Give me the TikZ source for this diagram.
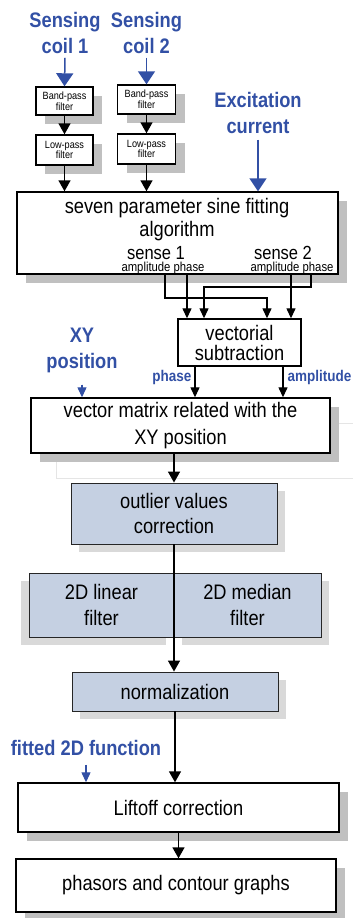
\documentclass[tikz,border=0pt]{standalone}
\usepackage{fontspec}
\setmainfont{Liberation Sans}[FakeStretch=0.87]
\usetikzlibrary{arrows.meta,shadows}
\definecolor{tagblue}{RGB}{50,80,165}
\definecolor{boxblue}{RGB}{197,208,226}
\definecolor{shadegray}{RGB}{192,192,192}
\definecolor{lightshade}{RGB}{217,217,217}
\newcommand{\fsz}[2]{\fontsize{#1}{#2}\selectfont}

\begin{document}
\begin{tikzpicture}[x=1pt, y=-1pt,
    plainbox/.style={draw=black, line width=1.4pt, fill=white, inner sep=0pt, align=center, font=\fsz{21}{26}},
    box/.style={plainbox, drop shadow={shadow xshift=9pt, shadow yshift=-9pt, fill=shadegray, opacity=1}},
    bluebox/.style={draw=black!85, line width=0.9pt, fill=boxblue, inner sep=0pt, align=center, font=\fsz{21}{25},
        drop shadow={shadow xshift=#1, shadow yshift=-8pt, fill=lightshade, opacity=1}},
    bluebox/.default=8pt,
    tag/.style={text=tagblue, font=\bfseries\fsz{21}{26}, align=center, inner sep=0pt},
    arr/.style={-{Triangle[width=12pt,length=11pt]}, line width=1.5pt},
    sarr/.style={-{Triangle[width=9pt,length=10pt]}, line width=1.3pt},
    barr/.style={-{Triangle[width=17pt,length=13pt]}, draw=tagblue, fill=tagblue, line width=1.5pt},
    sbarr/.style={-{Triangle[width=9pt,length=10pt]}, draw=tagblue, fill=tagblue, line width=1.2pt}]

    \useasboundingbox (0,0) rectangle (353,918);
    \draw[black!10, line width=1pt] (56,423) rectangle (360,478);

    % inputs and filters
    \node[tag] (C1) at (65,33) {Sensing\\coil 1};
    \node[tag] (C2) at (146.5,33) {Sensing\\coil 2};
    \node[tag] (EX) at (258,113) {Excitation\\current};

    \node[box, minimum width=57, minimum height=28, font=\fsz{10.5}{9.5}] (BP1) at (64.5,101) {Band-pass\\filter};
    \node[box, minimum width=57, minimum height=30, font=\fsz{10.5}{10}] (LP1) at (64.5,150) {Low-pass\\filter};
    \node[box, minimum width=58, minimum height=29, font=\fsz{10.5}{9.5}] (BP2) at (146.5,99.5) {Band-pass\\filter};
    \node[box, minimum width=58, minimum height=30, font=\fsz{10.5}{10}] (LP2) at (146.5,149) {Low-pass\\filter};

    \draw[barr] ([yshift=-4pt]C1.south) -- (BP1.north);
    \draw[barr] ([yshift=-4pt]C2.south) -- (BP2.north);
    \draw[arr] (BP1) -- (LP1);
    \draw[arr] (BP2) -- (LP2);

    % sine fitting
    \node[box, minimum width=321, minimum height=82] (ALG) at (177.5,233) {};
    \node[font=\fsz{21}{21}, anchor=base] (T1) at (177,213) {seven parameter sine fitting};
    \node[font=\fsz{21}{21}, anchor=base] (T2) at (177,236) {algorithm};
    \node[font=\fsz{19}{19}, anchor=base] (S1) at (156,259) {sense 1};
    \node[font=\fsz{19}{19}, anchor=base] (S2) at (283,259) {sense 2};
    \node[font=\fsz{13}{13}, anchor=base, inner sep=0pt] (AP1) at (163,271.5) {amplitude phase};
    \node[font=\fsz{13}{13}, anchor=base, inner sep=0pt] (AP2) at (292,271.5) {amplitude phase};

    \draw[arr] (LP1) -- (LP1 |- ALG.north);
    \draw[arr] (LP2) -- (LP2 |- ALG.north);
    \draw[barr] ([yshift=-6pt]EX.south) -- (EX.south |- ALG.north);

    \coordinate (a1) at (165,274);
    \coordinate (p1) at (187,274);
    \coordinate (a2) at (291,274);
    \coordinate (p2) at (311,274);

    % vectorial subtraction
    \node[plainbox, minimum width=123, minimum height=47, font=\fsz{21}{20}] (VS) at (239.5,342.5) {vectorial\\subtraction};

    \draw[sarr] (a1) -- ++(0,24) -| ([xshift=27.5pt]VS.north);
    \draw[sarr] (p1) -- (p1 |- VS.north);
    \draw[sarr] (p2) -- ++(0,13) -| ([xshift=-35.5pt]VS.north);
    \draw[sarr] (a2) -- (a2 |- VS.north);

    \node[tag] (XY) at (82,350) {XY\\position};
    \node[box, minimum width=299, minimum height=55, font=\fsz{21}{27}] (VM) at (180.5,425.5) {vector matrix related with the\\XY position};

    \coordinate (VSph) at ([xshift=-44.5pt]VS.south);
    \coordinate (VSam) at ([xshift=43.5pt]VS.south);
    \draw[sarr] (VSph) -- node[pos=0.35, left=3pt, inner sep=0pt, text=tagblue, font=\bfseries\fsz{15.5}{15.5}] (LPH) {phase} (VSph |- VM.north);
    \draw[sarr] (VSam) -- node[pos=0.35, right=4pt, inner sep=0pt, text=tagblue, font=\bfseries\fsz{15.5}{15.5}] (LAM) {amplitude} (VSam |- VM.north);
    \draw[sbarr] ([yshift=-12pt]XY.south) -- (XY.south |- VM.north);

    % post processing
    \node[bluebox, minimum width=206, minimum height=61] (OV) at (174,513.5) {outlier values\\correction};
    \draw[arr] (OV.north |- VM.south) -- (OV.north);

    \node[bluebox=-8pt, minimum width=145, minimum height=64, font=\fsz{21}{26}] (F1) at (101.5,605) {2D linear\\filter};
    \node[bluebox, minimum width=147, minimum height=64, font=\fsz{21}{26}] (F2) at (247.5,605) {2D median\\filter};
    \node[bluebox, minimum width=206, minimum height=39] (N) at (175,691.5) {normalization};
    \draw[arr] (OV.south) -- (OV.south |- N.north);

    \node[tag] (FT) at (86,748) {fitted 2D function};
    \node[box, minimum width=321, minimum height=49] (LC) at (178.5,807.5) {Liftoff correction};
    \node[box, minimum width=320, minimum height=53] (PG) at (176,885.5) {phasors and contour graphs};

    \draw[arr] (N.south) -- (N.south |- LC.north);
    \draw[sbarr] ([yshift=-9pt]FT.south) -- (FT.south |- LC.north);
    \draw[arr] (LC.south) -- (LC.south |- PG.north);
\end{tikzpicture}
\end{document}
